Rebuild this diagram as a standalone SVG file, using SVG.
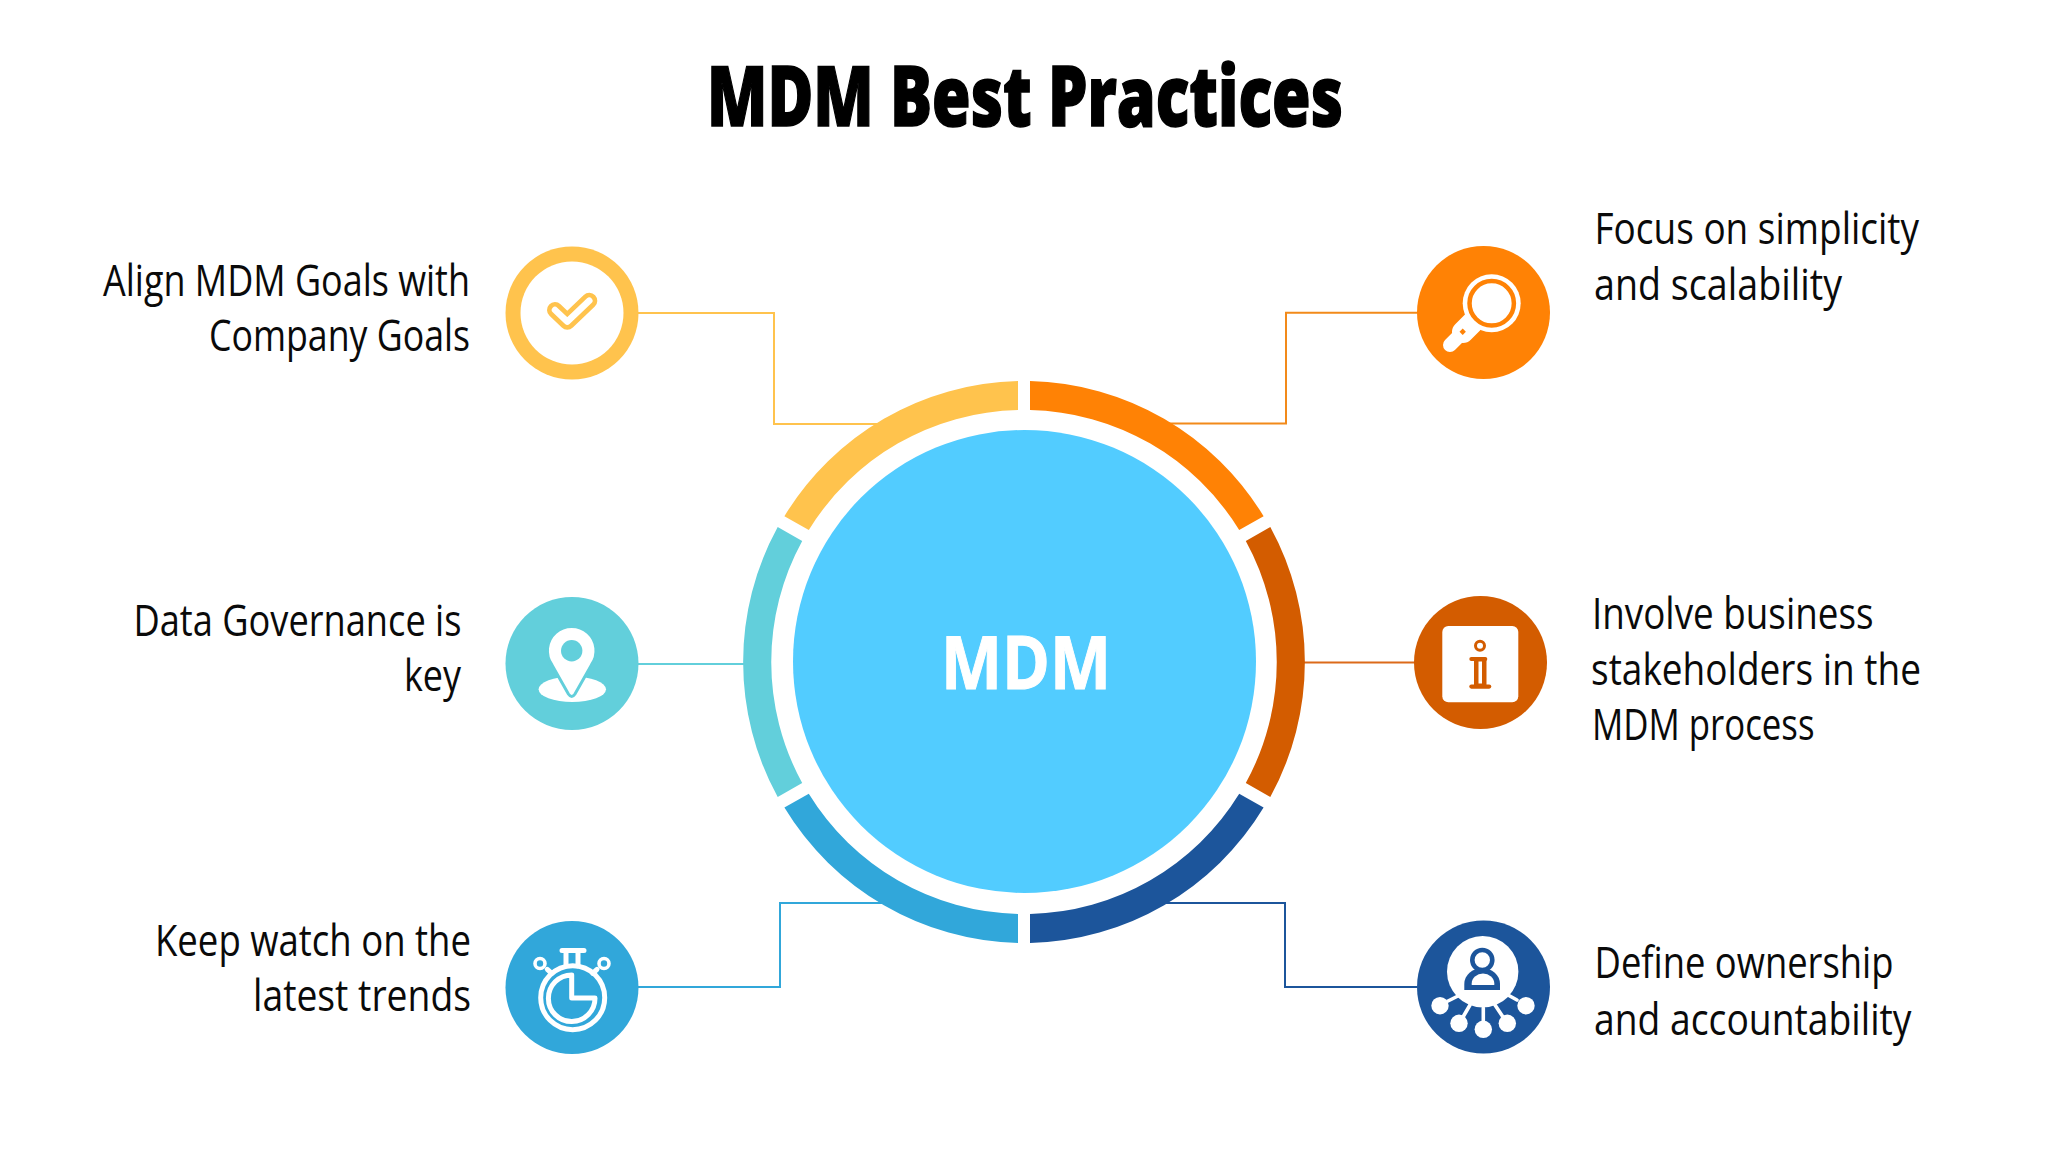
<svg xmlns="http://www.w3.org/2000/svg" width="2048" height="1152" viewBox="0 0 2048 1152">
<style>
text{font-family:"Open Sans","Noto Sans","Liberation Sans",sans-serif;fill:#0a0a0a}
.t{font-size:43px;font-weight:400}
.title{font-size:84px;font-weight:800;fill:#000;stroke:#000;stroke-width:1.5px}
.mdm{font-size:74px;font-weight:700;fill:#fff;stroke:#fff;stroke-width:1px}
.c{fill:none;stroke-width:2}
.w{fill:#fff}
.ws{fill:none;stroke:#fff;stroke-linecap:round;stroke-linejoin:round}
.yl{fill:#FFC34D}.og{fill:#FF8205}.br{fill:#D35C00}.nv{fill:#1C559B}.bl{fill:#31A7DA}.te{fill:#62CFDB}
</style>
<rect width="2048" height="1152" fill="#fff"/>
<text id="title" class="title" x="707" y="126" textLength="636" lengthAdjust="spacingAndGlyphs">MDM Best Practices</text>
<g id="connectors">
<path class="c" stroke="#FFC34D" d="M638 313H774V424H890"/>
<path class="c" stroke="#F28A1A" d="M1417 312.7H1286V423.5H1160"/>
<path class="c" stroke="#DC6A1A" d="M1414 662.5H1295"/>
<path class="c" stroke="#62CFDB" d="M638 664H755"/>
<path class="c" stroke="#31A7DA" d="M638 987H780V903H890"/>
<path class="c" stroke="#1C559B" d="M1417 987H1285V903H1160"/>
</g>
<g id="hub">
<path class="yl" d="M1018 381A281 281 0 0 0 784.4 516.2L808.8 530A252 252 0 0 1 1018 410Z"/>
<path class="og" d="M1030 381A281 281 0 0 1 1263.6 516.2L1239.2 530A252 252 0 0 0 1030 410Z"/>
<path class="te" d="M777.7 527A281 281 0 0 0 777.7 797L802.2 783A252 252 0 0 1 802.2 541Z"/>
<path class="br" d="M1270.3 527A281 281 0 0 1 1270.3 797L1245.8 783A252 252 0 0 0 1245.8 541Z"/>
<path class="bl" d="M784.4 807.6A281 281 0 0 0 1018 943V914A252 252 0 0 1 808.8 793.8Z"/>
<path class="nv" d="M1263.6 807.6A281 281 0 0 1 1030 943V914A252 252 0 0 0 1239.2 793.8Z"/>
<circle cx="1024.5" cy="661.5" r="231.5" fill="#52CCFF"/>
<text class="mdm" x="941" y="689" textLength="170" lengthAdjust="spacingAndGlyphs">MDM</text>
</g>
<g id="node-align">
<circle class="yl" cx="572" cy="313" r="66.5"/>
<circle class="w" cx="572" cy="313" r="51.5"/>
<polyline points="555,310 567.3,321.7 589.3,300.7" fill="none" stroke="#FFC34D" stroke-width="16" stroke-linecap="round" stroke-linejoin="round"/>
<polyline points="555,310 567.3,321.7 589.3,300.7" fill="none" stroke="#fff" stroke-width="6.5" stroke-linecap="round" stroke-linejoin="round"/>
<text class="t" x="103" y="296" textLength="367" lengthAdjust="spacingAndGlyphs">Align MDM Goals with</text>
<text class="t" x="209" y="351" textLength="261" lengthAdjust="spacingAndGlyphs">Company Goals</text>
</g>
<g id="node-governance">
<circle class="te" cx="572" cy="663.5" r="66.5"/>
<ellipse class="w" cx="572.3" cy="689.3" rx="33.7" ry="12.7"/>
<path class="w" stroke="#62CFDB" stroke-width="3" d="M552 665A24.3 24.3 0 1 1 591.4 665L575 694Q571.7 699 568.4 694Z"/>
<circle class="te" cx="571.7" cy="650.7" r="10.7"/>
<text class="t" x="133.5" y="636" textLength="328" lengthAdjust="spacingAndGlyphs">Data Governance is</text>
<text class="t" x="404" y="691" textLength="57" lengthAdjust="spacingAndGlyphs">key</text>
</g>
<g id="node-trends">
<circle class="bl" cx="572" cy="987.5" r="66.5"/>
<circle class="ws" cx="572.7" cy="997.7" r="32" stroke-width="5"/>
<path class="ws" stroke-width="5" d="M571.7 975V998H595A23.3 23.3 0 1 1 571.7 975Z"/>
<path class="ws" stroke-width="5" d="M562 950.5H584M566 952V966M578 952V966M547.3 969.3L551.7 973.3M597 969.3L592.7 973.3"/>
<circle class="ws" cx="540" cy="963.5" r="5" stroke-width="3.6"/>
<circle class="ws" cx="604" cy="963.5" r="5" stroke-width="3.6"/>
<text class="t" x="155" y="955.5" textLength="316" lengthAdjust="spacingAndGlyphs">Keep watch on the</text>
<text class="t" x="253" y="1010.5" textLength="218" lengthAdjust="spacingAndGlyphs">latest trends</text>
</g>
<g id="node-simplicity">
<circle class="og" cx="1483.5" cy="312.5" r="66.5"/>
<path class="ws" stroke-width="14" d="M1450 345L1463 332"/>
<path class="ws" stroke-width="22" d="M1463 332L1472 323"/>
<circle class="w" cx="1491.7" cy="303.3" r="29"/>
<circle cx="1491.7" cy="303.3" r="22.2" fill="#fff" stroke="#FF8205" stroke-width="4.5"/>
<rect class="og" x="1460.5" y="329.5" width="4.5" height="4.5" transform="rotate(45 1462.7 331.7)"/>
<text class="t" x="1594.5" y="244" textLength="324.5" lengthAdjust="spacingAndGlyphs">Focus on simplicity</text>
<text class="t" x="1594" y="299.5" textLength="248" lengthAdjust="spacingAndGlyphs">and scalability</text>
</g>
<g id="node-stakeholders">
<circle class="br" cx="1480.5" cy="662.5" r="66.5"/>
<rect class="w" x="1442.3" y="626" width="76" height="76.3" rx="6"/>
<circle cx="1480" cy="645.7" r="4.5" fill="none" stroke="#D35C00" stroke-width="3"/>
<rect class="br" x="1474" y="658" width="12.5" height="28"/>
<rect class="w" x="1478.5" y="661.5" width="3.5" height="22"/>
<rect class="br" x="1469.3" y="657" width="18" height="4" rx="2"/>
<rect class="br" x="1469.3" y="684.5" width="22" height="4.2" rx="2.1"/>
<text class="t" x="1592" y="629" textLength="281.5" lengthAdjust="spacingAndGlyphs">Involve business</text>
<text class="t" x="1591" y="684.5" textLength="330" lengthAdjust="spacingAndGlyphs">stakeholders in the</text>
<text class="t" x="1592" y="739.5" textLength="222.5" lengthAdjust="spacingAndGlyphs">MDM process</text>
</g>
<g id="node-ownership">
<circle class="nv" cx="1483.5" cy="987" r="66.5"/>
<circle class="w" cx="1482.7" cy="971.7" r="35.7"/>
<circle cx="1482.3" cy="960" r="10" fill="none" stroke="#1C559B" stroke-width="4.6"/>
<path class="nv" d="M1464.3 990V984A17.8 16 0 0 1 1500 984V990Z"/>
<path class="w" d="M1471.7 985V983.5A11.3 10 0 0 1 1494.3 983.5V985Z"/>
<path class="ws" stroke-width="3.6" d="M1448 1001L1458 996M1463 1017L1470 1005M1483.3 1023V1008M1503 1017L1495 1005M1517 1000L1508 995"/>
<circle class="w" cx="1440" cy="1005.7" r="8.7"/>
<circle class="w" cx="1459" cy="1023.3" r="8.7"/>
<circle class="w" cx="1483.3" cy="1029.3" r="8.7"/>
<circle class="w" cx="1507.3" cy="1023.3" r="8.7"/>
<circle class="w" cx="1526" cy="1005.7" r="8.7"/>
<text class="t" x="1594.5" y="978" textLength="299" lengthAdjust="spacingAndGlyphs">Define ownership</text>
<text class="t" x="1594" y="1034.5" textLength="317.5" lengthAdjust="spacingAndGlyphs">and accountability</text>
</g>
</svg>
